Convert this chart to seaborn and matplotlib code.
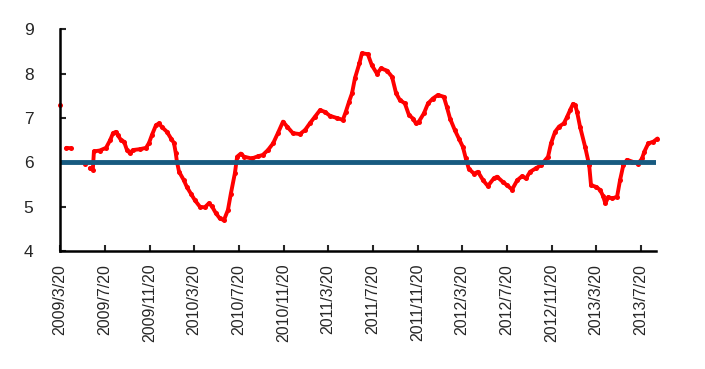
import numpy as np
import pandas as pd
import matplotlib
matplotlib.use("Agg")
import matplotlib.pyplot as plt
import seaborn as sns

# red series (nan = gap in the line)
dates = [
    "2009-03-20", "2009-03-29",
    "2009-04-07", "2009-04-19", "2009-05-10",
    "2009-05-28", "2009-06-05",
    "2009-06-10", "2009-06-18", "2009-06-21", "2009-07-07", "2009-07-24", "2009-08-04",
    "2009-08-12", "2009-08-20", "2009-08-25", "2009-09-03", "2009-09-11", "2009-09-19",
    "2009-09-27", "2009-10-05", "2009-10-24", "2009-11-10", "2009-11-18", "2009-11-26",
    "2009-12-07", "2009-12-15", "2009-12-23", "2010-01-06", "2010-01-17", "2010-01-25",
    "2010-01-30", "2010-02-02", "2010-02-08", "2010-02-21", "2010-03-01", "2010-03-12",
    "2010-03-23", "2010-04-06", "2010-04-19", "2010-04-30", "2010-05-08", "2010-05-19",
    "2010-05-30", "2010-06-10", "2010-06-21", "2010-06-29", "2010-07-10", "2010-07-16",
    "2010-07-26", "2010-08-04", "2010-08-25", "2010-09-11", "2010-09-24", "2010-10-08",
    "2010-10-22", "2010-11-04", "2010-11-18", "2010-11-29", "2010-12-15", "2011-01-03",
    "2011-01-17", "2011-01-30", "2011-02-13", "2011-02-27", "2011-03-12", "2011-03-26",
    "2011-04-14", "2011-04-30", "2011-05-08", "2011-05-17", "2011-05-25", "2011-06-02",
    "2011-06-14", "2011-06-21", "2011-07-07", "2011-07-18", "2011-08-01", "2011-08-12",
    "2011-08-28", "2011-09-11", "2011-09-22", "2011-10-02", "2011-10-16", "2011-10-27",
    "2011-11-07", "2011-11-15", "2011-11-23", "2011-12-07", "2011-12-18", "2011-12-31",
    "2012-01-14", "2012-01-30", "2012-02-07", "2012-02-16", "2012-02-29", "2012-03-11",
    "2012-03-22", "2012-03-30", "2012-04-07", "2012-04-21", "2012-05-02", "2012-05-16",
    "2012-05-29", "2012-06-14", "2012-06-23", "2012-07-09", "2012-07-20", "2012-08-03",
    "2012-08-17", "2012-08-30", "2012-09-10", "2012-09-21", "2012-10-07", "2012-10-21",
    "2012-10-29", "2012-11-09", "2012-11-17", "2012-11-28", "2012-12-09", "2012-12-22",
    "2012-12-31", "2013-01-08", "2013-01-16", "2013-01-22", "2013-01-27", "2013-02-04",
    "2013-02-18", "2013-03-01", "2013-03-06", "2013-03-20", "2013-03-31", "2013-04-08",
    "2013-04-14", "2013-04-22", "2013-05-03", "2013-05-16", "2013-05-24", "2013-06-02",
    "2013-06-12", "2013-06-26", "2013-07-12", "2013-07-23", "2013-07-29", "2013-08-09",
    "2013-08-23", "2013-09-03",
]
values = [
    7.29, np.nan,
    6.33, 6.32, np.nan,
    5.96, np.nan,
    5.87, 5.84, 6.25, 6.27, 6.33, 6.50,
    6.66, 6.69, 6.62, 6.50, 6.47, 6.28,
    6.21, 6.28, 6.30, 6.33, 6.44, 6.62,
    6.84, 6.88, 6.80, 6.69, 6.54, 6.44,
    6.21, 6.02, 5.79, 5.60, 5.45, 5.30,
    5.15, 5.00, 4.99, 5.08, 5.02, 4.86,
    4.74, 4.70, 4.93, 5.30, 5.76, 6.13,
    6.20, 6.13, 6.09, 6.14, 6.17, 6.28,
    6.43, 6.66, 6.92, 6.81, 6.66, 6.64,
    6.73, 6.88, 7.03, 7.18, 7.14, 7.05,
    7.00, 6.96, 7.14, 7.37, 7.56, 7.90,
    8.23, 8.46, 8.44, 8.19, 8.00, 8.12,
    8.07, 7.93, 7.56, 7.41, 7.33, 7.07,
    6.99, 6.88, 6.92, 7.11, 7.33, 7.44,
    7.52, 7.48, 7.26, 6.99, 6.73, 6.54,
    6.35, 6.09, 5.86, 5.75, 5.79, 5.60,
    5.47, 5.64, 5.68, 5.56, 5.49, 5.39,
    5.60, 5.69, 5.64, 5.79, 5.87, 5.94,
    6.02, 6.13, 6.43, 6.69, 6.81, 6.88,
    7.03, 7.18, 7.32, 7.29, 7.14, 6.81,
    6.35, 5.94, 5.49, 5.45, 5.38, 5.24,
    5.08, 5.22, 5.19, 5.23, 5.60, 5.94,
    6.06, 6.02, 5.97, 6.09, 6.24, 6.43,
    6.47, 6.54,
]

# flat blue reference line
ref_dates = ["2009-03-20", "2013-09-03"]
ref_values = [6.0, 6.0]

tick_dates = ["2009-03-20", "2009-07-20", "2009-11-20", "2010-03-20", "2010-07-20",
              "2010-11-20", "2011-03-20", "2011-07-20", "2011-11-20", "2012-03-20",
              "2012-07-20", "2012-11-20", "2013-03-20", "2013-07-20"]
y_ticks = [4, 5, 6, 7, 8, 9]

df = pd.DataFrame({"date": pd.to_datetime(dates), "value": values})
df["seg"] = df["value"].isna().cumsum()
df = df.dropna()
ref = pd.DataFrame({"date": pd.to_datetime(ref_dates), "value": ref_values})

sns.set_style("white")
plt.rcParams["font.family"] = ["Liberation Sans", "DejaVu Sans"]

fig = plt.figure(figsize=(7.05, 3.69), dpi=100)
ax = fig.add_axes([0.0848, 0.319, 0.8457, 0.6016])

sns.lineplot(data=df, x="date", y="value", units="seg", estimator=None,
             color="#ff0000", linewidth=2.8, marker="o", markersize=3.6,
             markeredgewidth=0, ax=ax, clip_on=False)
sns.lineplot(data=ref, x="date", y="value", color="#175a80", linewidth=3.5, ax=ax)

ax.set_xlim(pd.Timestamp("2009-03-20"), pd.Timestamp("2013-08-30"))
ax.set_ylim(4, 9)
ax.set_yticks(y_ticks)
ticks = pd.to_datetime(tick_dates)
ax.set_xticks(ticks)
ax.set_xticklabels([f"{d.year}/{d.month}/{d.day}" for d in ticks], rotation=90,
                   fontsize=11.5)
ax.set_yticklabels([str(v) for v in y_ticks], fontsize=12.5)
ax.set_xlabel("")
ax.set_ylabel("")

for side in ["top", "right"]:
    ax.spines[side].set_visible(False)
for side in ["left", "bottom"]:
    ax.spines[side].set_color("black")
    ax.spines[side].set_linewidth(1.8)

ax.tick_params(axis="x", direction="in", length=4, width=1.5, pad=9, bottom=True)
ax.tick_params(axis="y", direction="in", length=4, width=1.5, pad=19, left=True)
ax.grid(False)

fig.savefig("out.png", dpi=100)
